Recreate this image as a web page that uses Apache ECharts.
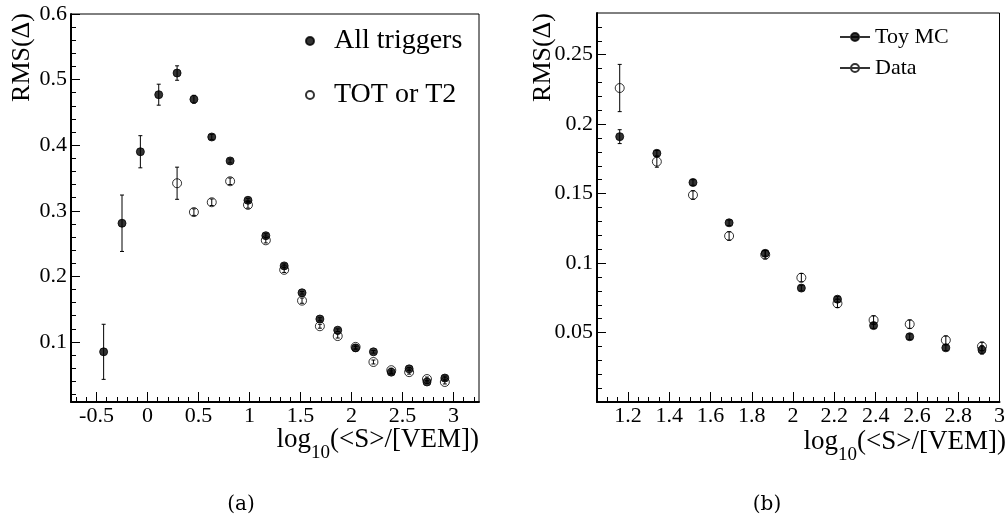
<!DOCTYPE html>
<html>
<head>
<meta charset="utf-8">
<script src="https://cdn.jsdelivr.net/npm/echarts@6/dist/echarts.min.js"></script>
<style>
  html, body { margin: 0; padding: 0; background: #fff; }
  #chart { width: 1008px; height: 521px; }
</style>
</head>
<body>
<div id="chart"></div>
<script>
// ---- panel (a): RMS(Δ) vs log10(<S>/[VEM]) for two trigger selections ----
const binsA = [-0.43, -0.25, -0.07, 0.11, 0.29, 0.455, 0.63, 0.81, 0.985, 1.16,
               1.34, 1.515, 1.69, 1.865, 2.04, 2.215, 2.39, 2.565, 2.74, 2.915];
const allTriggers    = [0.085, 0.281, 0.390, 0.477, 0.510, 0.470, 0.4125, 0.376, 0.316, 0.262,
                        0.216, 0.175, 0.135, 0.118, 0.091, 0.085, 0.054, 0.059, 0.039, 0.045];
const allTriggersErr = [0.042, 0.043, 0.0245, 0.016, 0.011, 0.006, 0.004, 0.003, 0.003, 0.003,
                        0.003, 0.002, 0.002, 0.002, 0.002, 0.002, 0.002, 0.002, 0.002, 0.003];
const totOrT2        = [null, null, null, null, 0.342, 0.298, 0.313, 0.345, 0.309, 0.255,
                        0.210, 0.163, 0.124, 0.109, 0.0925, 0.0695, 0.057, 0.054, 0.0435, 0.039];
const totOrT2Err     = [null, null, null, null, 0.0245, 0.005, 0.005, 0.005, 0.005, 0.004,
                        0.004, 0.004, 0.003, 0.003, 0.003, 0.003, 0.003, 0.003, 0.003, 0.003];

// ---- panel (b): toy Monte Carlo vs data ----
const binsB   = [1.16, 1.34, 1.515, 1.69, 1.865, 2.04, 2.215, 2.39, 2.565, 2.74, 2.915];
const toyMC    = [0.191, 0.179, 0.158, 0.129, 0.107, 0.082, 0.074, 0.055, 0.047, 0.039, 0.0375];
const toyMCErr = [0.005, 0.002, 0.002, 0.002, 0.002, 0.002, 0.002, 0.002, 0.002, 0.002, 0.003];
const dataB    = [0.226, 0.173, 0.149, 0.1195, 0.106, 0.0895, 0.071, 0.059, 0.056, 0.0445, 0.040];
const dataBErr = [0.017, 0.004, 0.003, 0.003, 0.003, 0.003, 0.003, 0.003, 0.003, 0.003, 0.003];

// ---- tick labels ----
const xTicksA = [-0.5, 0, 0.5, 1, 1.5, 2, 2.5, 3];
const yTicksA = [0.1, 0.2, 0.3, 0.4, 0.5, 0.6];
const xTicksB = [1.2, 1.4, 1.6, 1.8, 2, 2.2, 2.4, 2.6, 2.8, 3];
const yTicksB = [0.05, 0.1, 0.15, 0.2, 0.25];

// minor tick positions between major ticks
function minorTicks(from, to, step, majors) {
  const out = [];
  const n = Math.round((to - from) / step);
  for (let i = 0; i <= n; i++) {
    const v = +(from + i * step).toFixed(4);
    if (!majors.some(m => Math.abs(m - v) < 1e-6)) out.push(v);
  }
  return out;
}

const FONT = '"Liberation Serif", "Times New Roman", serif';
const CAPTION_FONT = '"DejaVu Serif", serif';

function pairs(xs, ys) {
  return xs.map((x, i) => ys[i] == null ? null : [x, ys[i]]).filter(p => p);
}
function triples(xs, ys, es) {
  return xs.map((x, i) => ys[i] == null ? null : [x, ys[i], es[i]]).filter(p => p);
}

function errorBars(name, xs, ys, es, axis) {
  return {
    name: name + ' err',
    type: 'custom',
    xAxisIndex: axis, yAxisIndex: axis,
    z: 1,
    silent: true,
    data: triples(xs, ys, es),
    renderItem: function (params, api) {
      const x = api.value(0), y = api.value(1), e = api.value(2);
      const lo = api.coord([x, y - e]);
      const hi = api.coord([x, y + e]);
      const st = { stroke: '#000', lineWidth: 1 };
      return {
        type: 'group',
        children: [
          { type: 'line', shape: { x1: lo[0], y1: lo[1], x2: hi[0], y2: hi[1] }, style: st },
          { type: 'line', shape: { x1: lo[0] - 2, y1: lo[1], x2: lo[0] + 2, y2: lo[1] }, style: st },
          { type: 'line', shape: { x1: hi[0] - 2, y1: hi[1], x2: hi[0] + 2, y2: hi[1] }, style: st }
        ]
      };
    }
  };
}

function markers(name, xs, ys, axis, filled) {
  return {
    name: name,
    type: 'scatter',
    xAxisIndex: axis, yAxisIndex: axis,
    z: 2,
    symbol: 'circle',
    symbolSize: filled ? 8 : 9,
    itemStyle: filled
      ? { color: '#000', borderColor: '#000', borderWidth: 1 }
      : { color: 'rgba(0,0,0,0)', borderColor: '#000', borderWidth: 1 },
    emphasis: { disabled: true },
    data: pairs(xs, ys)
  };
}

function mainX(gridIndex, min, max, ticks) {
  return {
    type: 'value', gridIndex, min, max, position: 'bottom',
    axisLine: { show: true, onZero: false, lineStyle: { color: '#000', width: 2 } },
    axisTick: { show: true, inside: true, length: 10, customValues: ticks, lineStyle: { color: '#000', width: 1 } },
    axisLabel: { customValues: ticks, color: '#000', fontFamily: FONT, fontSize: 22, margin: 3 },
    splitLine: { show: false }
  };
}
function minorX(gridIndex, min, max, ticks) {
  return {
    type: 'value', gridIndex, min, max, position: 'bottom',
    axisLine: { show: false, onZero: false },
    axisTick: { show: true, inside: true, length: 5, customValues: ticks, lineStyle: { color: '#000', width: 1 } },
    axisLabel: { show: false },
    splitLine: { show: false }
  };
}
function mainY(gridIndex, min, max, ticks) {
  return {
    type: 'value', gridIndex, min, max, position: 'left',
    axisLine: { show: true, onZero: false, lineStyle: { color: '#000', width: 2 } },
    axisTick: { show: true, inside: true, length: 9, customValues: ticks, lineStyle: { color: '#000', width: 1 } },
    axisLabel: { customValues: ticks, color: '#000', fontFamily: FONT, fontSize: 22, margin: 4 },
    splitLine: { show: false }
  };
}
function minorY(gridIndex, min, max, ticks) {
  return {
    type: 'value', gridIndex, min, max, position: 'left',
    axisLine: { show: false, onZero: false },
    axisTick: { show: true, inside: true, length: 5, customValues: ticks, lineStyle: { color: '#000', width: 1 } },
    axisLabel: { show: false },
    splitLine: { show: false }
  };
}

const xRangeA = [-0.75, 3.25], yRangeA = [0.0085, 0.6];
const xRangeB = [1.05, 3.0],   yRangeB = [0, 0.28];

const xTitle = {
  text: '{m|log}{s|10}{m|(<S>/[VEM])}',
  rich: {
    m: { fontFamily: FONT, fontSize: 27, fill: '#000' },
    s: { fontFamily: FONT, fontSize: 19, fill: '#000', padding: [26, 0, 0, 0] }
  }
};

const chart = echarts.init(document.getElementById('chart'), null, { renderer: 'canvas' });
chart.setOption({
  animation: false,
  backgroundColor: '#fff',
  grid: [
    { left: 71, right: 529, top: 14, bottom: 119, show: true, borderColor: '#000', borderWidth: 1, backgroundColor: 'transparent' },
    { left: 597, right: 2, top: 13, bottom: 119, show: true, borderColor: '#000', borderWidth: 1, backgroundColor: 'transparent' }
  ],
  xAxis: [
    mainX(0, xRangeA[0], xRangeA[1], xTicksA),
    minorX(0, xRangeA[0], xRangeA[1], minorTicks(-0.7, 3.2, 0.1, xTicksA)),
    mainX(1, xRangeB[0], xRangeB[1], xTicksB),
    minorX(1, xRangeB[0], xRangeB[1], minorTicks(1.1, 2.95, 0.05, xTicksB))
  ],
  yAxis: [
    mainY(0, yRangeA[0], yRangeA[1], yTicksA),
    minorY(0, yRangeA[0], yRangeA[1], minorTicks(0.02, 0.58, 0.02, yTicksA)),
    mainY(1, yRangeB[0], yRangeB[1], yTicksB),
    minorY(1, yRangeB[0], yRangeB[1], minorTicks(0.01, 0.27, 0.01, yTicksB))
  ],
  legend: [
    {
      data: ['All triggers', 'TOT or T2'],
      orient: 'vertical', left: 305, top: 27, padding: 0,
      itemWidth: 8, itemHeight: 8, itemGap: 26,
      icon: 'circle',
      selectedMode: false,
      textStyle: { fontFamily: FONT, fontSize: 28, color: '#000', padding: [0, 0, 0, 15] }
    },
    {
      data: [
        { name: 'Toy MC', icon: 'path://M0 6L30 6M19 6A4 4 0 1 1 11 6A4 4 0 1 1 19 6Z' },
        { name: 'Data',   icon: 'path://M0 6L30 6M19 6A4 4 0 1 1 11 6A4 4 0 1 1 19 6Z' }
      ],
      orient: 'vertical', left: 839, top: 26, padding: 0,
      itemWidth: 30, itemHeight: 8, itemGap: 9,
      selectedMode: false,
      textStyle: { fontFamily: FONT, fontSize: 22, color: '#000' }
    }
  ],
  series: [
    errorBars('All triggers', binsA, allTriggers, allTriggersErr, 0),
    errorBars('TOT or T2', binsA, totOrT2, totOrT2Err, 0),
    markers('All triggers', binsA, allTriggers, 0, true),
    markers('TOT or T2', binsA, totOrT2, 0, false),
    errorBars('Toy MC', binsB, toyMC, toyMCErr, 2),
    errorBars('Data', binsB, dataB, dataBErr, 2),
    markers('Toy MC', binsB, toyMC, 2, true),
    markers('Data', binsB, dataB, 2, false)
  ],
  graphic: [
    { type: 'text', x: 22, y: 13, rotation: Math.PI / 2,
      style: { text: 'RMS(Δ)', fontFamily: FONT, fontSize: 26, fill: '#000', align: 'right', verticalAlign: 'middle' } },
    { type: 'text', x: 543, y: 13, rotation: Math.PI / 2,
      style: { text: 'RMS(Δ)', fontFamily: FONT, fontSize: 26, fill: '#000', align: 'right', verticalAlign: 'middle' } },
    { type: 'text', x: 479, y: 440,
      style: Object.assign({ align: 'right', verticalAlign: 'middle' }, xTitle) },
    { type: 'text', x: 1006, y: 442,
      style: Object.assign({ align: 'right', verticalAlign: 'middle' }, xTitle) },
    { type: 'text', x: 241, y: 505,
      style: { text: '(a)', fontFamily: CAPTION_FONT, fontSize: 20, fill: '#000', align: 'center', verticalAlign: 'middle' } },
    { type: 'text', x: 767, y: 505,
      style: { text: '(b)', fontFamily: CAPTION_FONT, fontSize: 20, fill: '#000', align: 'center', verticalAlign: 'middle' } }
  ]
});
</script>
</body>
</html>
